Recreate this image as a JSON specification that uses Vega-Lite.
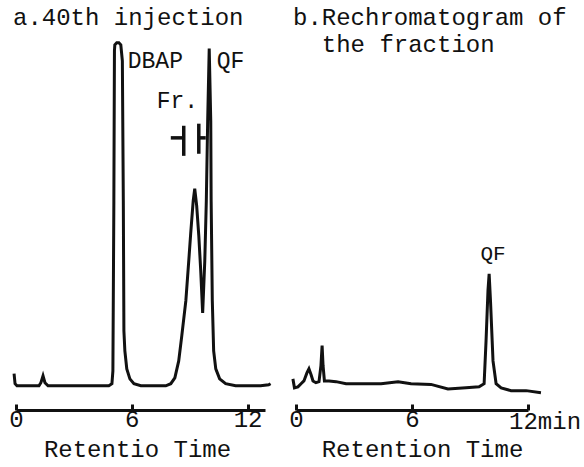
{
  "$schema": "https://vega.github.io/schema/vega-lite/v6.json",
  "background": "white",
  "padding": {"left": 8, "top": 5, "right": 0, "bottom": 8},
  "spacing": 31,
  "bounds": "flush",
  "config": {
    "view": {"stroke": null},
    "font": "Liberation Mono",
    "title": {"font": "Liberation Mono", "fontSize": 24, "fontWeight": "normal", "color": "#111", "anchor": "start", "frame": "group", "offset": 10},
    "axis": {
      "grid": false,
      "domainColor": "#111", "domainWidth": 3,
      "tickColor": "#111", "tickWidth": 3, "tickSize": -6,
      "labelFont": "Liberation Mono", "labelFontSize": 24, "labelColor": "#111", "labelPadding": 3, "labelFlush": false, "labelAlign": "center", "labelOverlap": false,
      "titleFont": "Liberation Mono", "titleFontSize": 24, "titleFontWeight": "normal", "titleColor": "#111", "titlePadding": 6
    }
  },
  "hconcat": [
    {
      "width": 249,
      "height": 370,
      "title": {"text": "a.40th injection", "dx": -3, "dy": 3},
      "layer": [
        {
          "data": {"values": [
            {"t": -0.10, "v": 3.5}, {"t": -0.05, "v": 0.6}, {"t": 0.05, "v": 0}, {"t": 1.19, "v": 0},
            {"t": 1.29, "v": 0.9}, {"t": 1.40, "v": 2.9}, {"t": 1.50, "v": 0.9}, {"t": 1.66, "v": 0},
            {"t": 4.81, "v": 0}, {"t": 4.97, "v": 0.6}, {"t": 5.02, "v": 4.3}, {"t": 5.07, "v": 53.5},
            {"t": 5.10, "v": 96.9}, {"t": 5.12, "v": 98.6}, {"t": 5.22, "v": 99.2}, {"t": 5.33, "v": 99.2},
            {"t": 5.43, "v": 98.6}, {"t": 5.51, "v": 94.0}, {"t": 5.56, "v": 53.5}, {"t": 5.59, "v": 15.9},
            {"t": 5.64, "v": 10.1}, {"t": 5.74, "v": 4.9}, {"t": 5.90, "v": 2.0}, {"t": 6.11, "v": 0.6},
            {"t": 6.47, "v": 0}, {"t": 7.76, "v": 0}, {"t": 8.02, "v": 0.6}, {"t": 8.23, "v": 2.3},
            {"t": 8.43, "v": 7.2}, {"t": 8.59, "v": 14.5}, {"t": 8.80, "v": 24.6}, {"t": 8.95, "v": 36.1},
            {"t": 9.05, "v": 44.0}, {"t": 9.18, "v": 53.5}, {"t": 9.26, "v": 57.0}, {"t": 9.36, "v": 52.1},
            {"t": 9.47, "v": 43.4}, {"t": 9.57, "v": 33.3}, {"t": 9.67, "v": 21.1}, {"t": 9.78, "v": 36.1},
            {"t": 9.86, "v": 53.5}, {"t": 9.93, "v": 76.6}, {"t": 10.01, "v": 97.5}, {"t": 10.09, "v": 76.6},
            {"t": 10.11, "v": 53.5}, {"t": 10.17, "v": 24.6}, {"t": 10.24, "v": 10.1}, {"t": 10.35, "v": 4.9},
            {"t": 10.55, "v": 2.0}, {"t": 10.86, "v": 0.6}, {"t": 11.38, "v": 0}, {"t": 12.67, "v": 0},
            {"t": 13.09, "v": 0.3}, {"t": 13.19, "v": 0.6}
          ]},
          "mark": {"type": "line", "strokeWidth": 3, "color": "#111"},
          "encoding": {
            "x": {"field": "t", "type": "quantitative", "scale": {"domain": [0, 12.9], "nice": false, "zero": false},
                  "axis": {"values": [0, 6, 12], "title": "Retentio Time", "titleX": 121, "titleAlign": "center"}},
            "y": {"field": "v", "type": "quantitative", "scale": {"domain": [-7, 100], "nice": false, "zero": false}, "axis": null}
          }
        },
        {
          "data": {"values": [
            {"t1": 8.02, "t2": 8.69, "v1": 71.7, "v2": 71.7},
            {"t1": 8.69, "t2": 8.69, "v1": 66.5, "v2": 75.2},
            {"t1": 9.47, "t2": 9.47, "v1": 67.1, "v2": 75.8},
            {"t1": 9.47, "t2": 9.83, "v1": 71.7, "v2": 71.7}
          ]},
          "mark": {"type": "rule", "strokeWidth": 3.5, "color": "#111"},
          "encoding": {
            "x": {"field": "t1", "type": "quantitative"},
            "x2": {"field": "t2"},
            "y": {"field": "v1", "type": "quantitative"},
            "y2": {"field": "v2"}
          }
        },
        {
          "data": {"values": [
            {"t": 5.79, "v": 94.0, "label": "DBAP"},
            {"t": 7.29, "v": 82.4, "label": "Fr."},
            {"t": 10.40, "v": 94.0, "label": "QF"}
          ]},
          "mark": {"type": "text", "align": "left", "baseline": "middle", "fontSize": 23, "font": "Liberation Mono", "color": "#111"},
          "encoding": {
            "x": {"field": "t", "type": "quantitative"},
            "y": {"field": "v", "type": "quantitative"},
            "text": {"field": "label"}
          }
        }
      ]
    },
    {
      "width": 232,
      "height": 370,
      "title": {"text": ["b.Rechromatogram of", "\u200b\u00a0\u00a0the fraction"], "lineHeight": 27, "dx": -3, "dy": 27},
      "layer": [
        {
          "data": {"values": [
            {"t": -0.16, "v": 2.0}, {"t": -0.08, "v": -0.6}, {"t": 0.10, "v": -0.3}, {"t": 0.26, "v": 0.6},
            {"t": 0.41, "v": 1.4}, {"t": 0.57, "v": 3.8}, {"t": 0.67, "v": 4.9}, {"t": 0.78, "v": 3.2},
            {"t": 0.88, "v": 1.4}, {"t": 1.03, "v": 0.9}, {"t": 1.19, "v": 1.2}, {"t": 1.29, "v": 5.8},
            {"t": 1.35, "v": 11.6}, {"t": 1.40, "v": 5.8}, {"t": 1.47, "v": 1.4}, {"t": 1.71, "v": 1.4},
            {"t": 2.07, "v": 1.2}, {"t": 2.59, "v": 0.6}, {"t": 3.36, "v": 0.6}, {"t": 4.40, "v": 0.6},
            {"t": 5.28, "v": 1.2}, {"t": 5.95, "v": 0.6}, {"t": 6.98, "v": 0.4}, {"t": 7.86, "v": -0.9},
            {"t": 8.79, "v": -0.6}, {"t": 9.47, "v": -0.3}, {"t": 9.73, "v": 0.6}, {"t": 9.83, "v": 13.0},
            {"t": 9.93, "v": 27.5}, {"t": 9.99, "v": 32.4}, {"t": 10.06, "v": 24.6}, {"t": 10.19, "v": 7.2},
            {"t": 10.35, "v": 0.6}, {"t": 10.61, "v": -0.6}, {"t": 11.12, "v": -1.4}, {"t": 11.90, "v": -1.4},
            {"t": 12.67, "v": -2.0}
          ]},
          "mark": {"type": "line", "strokeWidth": 3, "color": "#111"},
          "encoding": {
            "x": {"field": "t", "type": "quantitative", "scale": {"domain": [0, 12], "nice": false, "zero": false},
                  "axis": {"values": [0, 6, 12], "title": "Retention Time", "titleX": 126, "titleAlign": "center",
                           "labelExpr": "datum.value == 12 ? '' : datum.label"}},
            "y": {"field": "v", "type": "quantitative", "scale": {"domain": [-7, 100], "nice": false, "zero": false}, "axis": null}
          }
        },
        {
          "data": {"values": [
            {"t": 10.19, "v": 38.2, "label": "QF"}
          ]},
          "mark": {"type": "text", "align": "center", "baseline": "middle", "fontSize": 21, "font": "Liberation Mono", "color": "#111"},
          "encoding": {
            "x": {"field": "t", "type": "quantitative"},
            "y": {"field": "v", "type": "quantitative"},
            "text": {"field": "label"}
          }
        },
        {
          "data": {"values": [
            {"t": 11.02, "v": -10.6, "label": "12min"}
          ]},
          "mark": {"type": "text", "align": "left", "baseline": "middle", "fontSize": 24, "font": "Liberation Mono", "color": "#111"},
          "encoding": {
            "x": {"field": "t", "type": "quantitative"},
            "y": {"field": "v", "type": "quantitative"},
            "text": {"field": "label"}
          }
        }
      ]
    }
  ]
}
